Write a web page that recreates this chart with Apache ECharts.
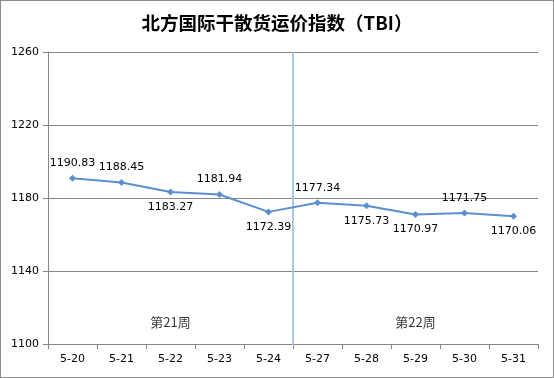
<!DOCTYPE html>
<html><head><meta charset="utf-8">
<script src="https://cdn.jsdelivr.net/npm/echarts@6/dist/echarts.min.js"></script>
<style>html,body{margin:0;padding:0;background:#fff}#c{width:554px;height:378px;box-sizing:border-box;border:1px solid #8c8c8c}</style>
</head><body><div id="c"></div>
<script>
var categories = ['5-20','5-21','5-22','5-23','5-24','5-27','5-28','5-29','5-30','5-31'];
var values = [1190.83,1188.45,1183.27,1181.94,1172.39,1177.34,1175.73,1170.97,1171.75,1170.06];
var labelPos = ['top','top','bottom','top','bottom','top','bottom','bottom','top','bottom'];
var yTicks = [1100,1140,1180,1220,1260];
var weekLabels = ['第21周','第22周'];
var weekX = [2.5,7.5];
var weekY = 1112;
var dividerX = 5;

var chart = echarts.init(document.getElementById('c'));
var font = '"DejaVu Sans","Noto Sans CJK SC",sans-serif';
chart.setOption({
  animation:false,
  title:{text:'北方国际干散货运价指数（TBI）',left:'center',top:8,
    textStyle:{fontFamily:'"Noto Sans CJK SC",sans-serif',fontSize:18.5,fontWeight:'bold',color:'#000'}},
  grid:{left:47,right:15,top:51,bottom:33},
  xAxis:[{type:'category',data:categories,boundaryGap:true,
    axisLine:{lineStyle:{color:'#868686'}},
    axisTick:{show:true,length:5,lineStyle:{color:'#868686'}},
    axisLabel:{color:'#000',fontSize:11,fontFamily:font,margin:10}},
   {type:'value',min:0,max:10,show:false}],
  yAxis:{type:'value',min:yTicks[0],max:yTicks[yTicks.length-1],interval:40,
    axisLine:{show:true,lineStyle:{color:'#868686'}},
    axisTick:{show:true,length:5,lineStyle:{color:'#868686'}},
    splitLine:{lineStyle:{color:'#868686'}},
    axisLabel:{color:'#000',fontSize:11,fontFamily:font,margin:9,formatter:function(v){return String(v);}}},
  series:[
    {type:'line',xAxisIndex:1,data:[[dividerX,yTicks[0]-1.5],[dividerX,yTicks[yTicks.length-1]]],
     symbol:'none',silent:true,lineStyle:{color:'#a9c8e8',width:2},z:1},
    {type:'scatter',xAxisIndex:1,symbolSize:0,
     data:weekX.map(function(x,i){return {value:[x,weekY],label:{show:true,formatter:weekLabels[i]}};}),
     label:{position:'inside',color:'#000',fontSize:13,fontFamily:'"Noto Sans CJK SC",sans-serif'}},
    {type:'line',data:values.map(function(v,i){return {value:v,label:{position:labelPos[i]}};}),
     symbol:'diamond',symbolSize:7,
     lineStyle:{color:'#5b8fcf',width:2},itemStyle:{color:'#5b8fcf'},
     label:{show:true,color:'#000',fontSize:11,fontFamily:font,distance:6,
       formatter:function(p){return p.value.toFixed(2);}},z:3}
  ]
});
</script></body></html>
